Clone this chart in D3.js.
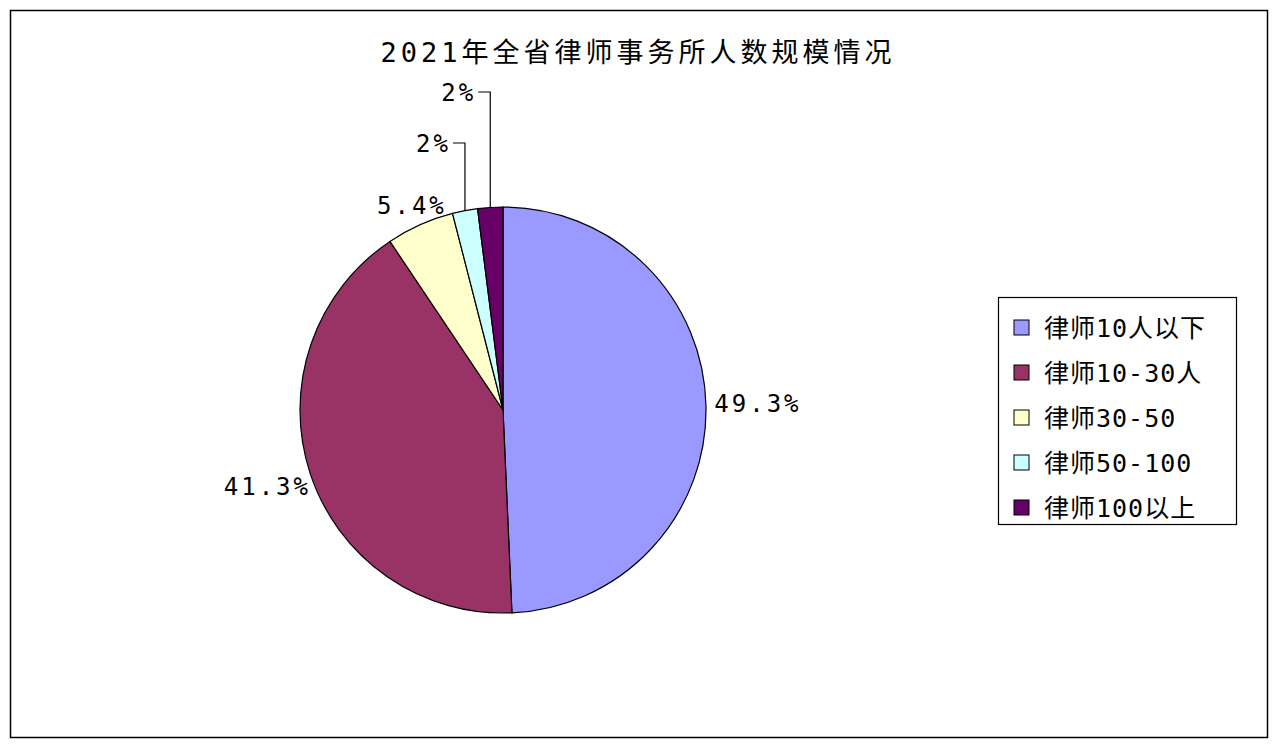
<!DOCTYPE html>
<html>
<head>
<meta charset="utf-8">
<script src="https://cdn.jsdelivr.net/npm/d3@7"></script>
<style>body{margin:0;background:#fff;}</style>
</head>
<body>
<script>
const categories = ["律师10人以下", "律师10-30人", "律师30-50", "律师50-100", "律师100以上"];
const values = [49.3, 41.3, 5.4, 2, 2];
const labels = ["49.3%", "41.3%", "5.4%", "2%", "2%"];
const colors = ["#9999FF", "#993366", "#FFFFCC", "#CCFFFF", "#660066"];

const W = 1278, H = 748;
const font = "'DejaVu Sans Mono', 'Noto Sans CJK SC', monospace";
const svg = d3.select("body").append("svg").attr("width", W).attr("height", H);

// frame
svg.append("rect").attr("x", 10.5).attr("y", 10.5).attr("width", 1257).attr("height", 727)
  .attr("fill", "#fff").attr("stroke", "#000").attr("stroke-width", 1.5);

svg.append("text").attr("x", 638).attr("y", 62).attr("text-anchor", "middle")
  .attr("font-family", font).attr("font-size", 27).attr("letter-spacing", 4)
  .text("2021年全省律师事务所人数规模情况");

const cx = 503, cy = 410, r = 203;
const pie = d3.pie().sort(null).value(d => d);
const arcs = pie(values);
const arc = d3.arc().innerRadius(0).outerRadius(r);
const g = svg.append("g").attr("transform", `translate(${cx},${cy})`);
g.selectAll("path").data(arcs).enter().append("path")
  .attr("d", arc).attr("fill", (d, i) => colors[i])
  .attr("stroke", "#000").attr("stroke-width", 1.2);

// labels
const labelR = [r + 52, r + 45, r + 20, 0, 0];
arcs.forEach((d, i) => {
  const a = (d.startAngle + d.endAngle) / 2;
  if (i < 3) {
    const x = Math.sin(a) * labelR[i], y = -Math.cos(a) * labelR[i];
    g.append("text").attr("x", x).attr("y", y + 8).attr("text-anchor", "middle")
      .attr("font-family", font).attr("font-size", 24).attr("letter-spacing", 3).text(labels[i]);
  } else {
    const sx = Math.sin(a) * r, sy = -Math.cos(a) * r;
    const ty = i === 3 ? -267 : -318;
    g.append("polyline")
      .attr("points", `${sx},${sy} ${sx},${ty} ${sx - 12},${ty}`)
      .attr("fill", "none").attr("stroke", "#000").attr("stroke-width", 1.2);
    g.append("text").attr("x", sx - 14).attr("y", ty + 9).attr("text-anchor", "end")
      .attr("font-family", font).attr("font-size", 24).attr("letter-spacing", 3).text(labels[i]);
  }
});

// legend
const lg = svg.append("g").attr("transform", "translate(998,297)");
lg.append("rect").attr("x", 0.5).attr("y", 0.5).attr("width", 238).attr("height", 227)
  .attr("fill", "#fff").attr("stroke", "#000").attr("stroke-width", 1.2);
const ly = d3.scalePoint().domain(categories).range([31, 211]);
categories.forEach((c, i) => {
  lg.append("rect").attr("x", 16).attr("y", ly(c) - 8).attr("width", 15).attr("height", 15)
    .attr("fill", colors[i]).attr("stroke", "#000");
  lg.append("text").attr("x", 46).attr("y", ly(c) + 9).attr("font-family", font)
    .attr("font-size", 25).attr("letter-spacing", 1).text(c);
});
</script>
</body>
</html>
